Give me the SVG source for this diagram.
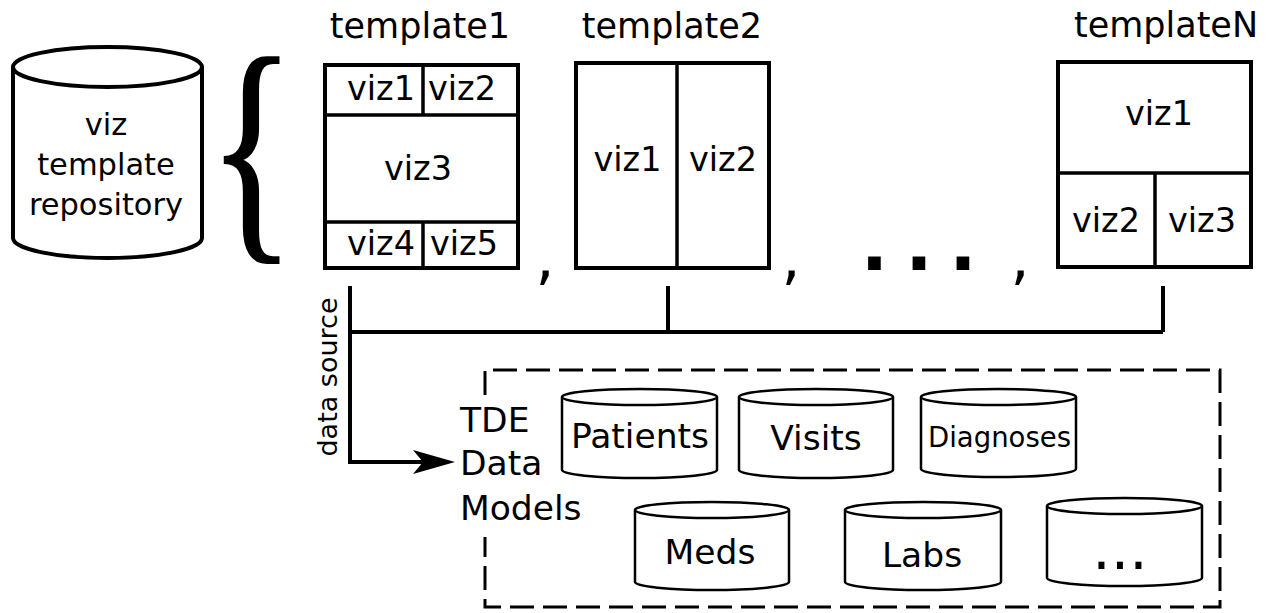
<svg xmlns="http://www.w3.org/2000/svg" width="1270" height="613" viewBox="0 0 1270 613">
  <style>
    text { font-family: "DejaVu Sans", "Liberation Sans", sans-serif; fill: #000; }
    .mid { text-anchor: middle; }
    .tpl { font-size: 35px; }
    .viz { font-size: 33.5px; }
    .frame { fill: #fff; stroke: #000; stroke-width: 4; }
    .div { fill: none; stroke: #000; stroke-width: 3.5; }
    .cyl { fill: #fff; stroke: #000; stroke-width: 2.5; }
    .cylBig { fill: #fff; stroke: #000; stroke-width: 4; }
    .wire { fill: none; stroke: #000; stroke-width: 4; }
    .model { font-size: 34.5px; }
  </style>
  <defs>
    <marker id="arrow" viewBox="0 0 42 24" refX="17" refY="12" markerWidth="42" markerHeight="24" markerUnits="userSpaceOnUse" orient="auto">
      <path d="M0,0 L42,12 L0,24 L10,12 Z" fill="#000"/>
    </marker>
  </defs>
  <rect width="1270" height="613" fill="#fff"/>

  <!-- repository cylinder -->
  <g id="repository">
    <path class="cylBig" d="M13,67 V238 A94.5,20 0 0 0 202,238 V67"/>
    <ellipse class="cylBig" cx="107.5" cy="67" rx="94.5" ry="20"/>
    <text class="mid" x="106" y="135" font-size="30.5">viz</text>
    <text class="mid" x="106" y="175" font-size="30.5">template</text>
    <text class="mid" x="106" y="215" font-size="30.5">repository</text>
  </g>

  <!-- brace grouping the templates -->
  <g id="brace">
    <text transform="translate(208,230) scale(0.73,1)" x="0" y="0" style="font-family:'Liberation Serif', serif" font-size="249" stroke="#000" stroke-width="2">{</text>
  </g>

  <!-- template 1 -->
  <g id="template1">
    <text class="tpl mid" x="420" y="38">template1</text>
    <rect class="frame" x="325" y="65" width="193" height="203"/>
    <path class="div" d="M325,115 H518 M325,222 H518 M423,65 V115 M423,222 V268"/>
    <text class="viz mid" x="381" y="100">viz1</text>
    <text class="viz mid" x="462" y="100">viz2</text>
    <text class="viz mid" x="418" y="180">viz3</text>
    <text class="viz mid" x="381" y="255">viz4</text>
    <text class="viz mid" x="464" y="255">viz5</text>
  </g>

  <!-- template 2 -->
  <g id="template2">
    <text class="tpl mid" x="672" y="38">template2</text>
    <rect class="frame" x="576" y="63" width="193" height="205"/>
    <path class="div" d="M677,63 V268"/>
    <text class="viz mid" x="627.5" y="171">viz1</text>
    <text class="viz mid" x="723" y="171">viz2</text>
  </g>

  <!-- template N -->
  <g id="templateN">
    <text class="tpl mid" x="1166" y="37">templateN</text>
    <rect class="frame" x="1058" y="62" width="193" height="205"/>
    <path class="div" d="M1058,173 H1251 M1155,173 V267"/>
    <text class="viz mid" x="1159" y="125">viz1</text>
    <text class="viz mid" x="1106" y="232">viz2</text>
    <text class="viz mid" x="1202" y="232">viz3</text>
  </g>

  <!-- separators between templates -->
  <g id="separators">
    <text class="mid" x="545" y="278" font-size="60">,</text>
    <text class="mid" x="791" y="278" font-size="60">,</text>
    <text class="mid" x="1020" y="278" font-size="60">,</text>
    <text class="mid" x="874.5" y="270" font-size="72" font-weight="bold">.</text>
    <text class="mid" x="919" y="270" font-size="72" font-weight="bold">.</text>
    <text class="mid" x="963" y="270" font-size="72" font-weight="bold">.</text>
  </g>

  <!-- connectors -->
  <g id="connectors">
    <path class="wire" d="M350,286 V462 H430" marker-end="url(#arrow)"/>
    <path class="wire" d="M350,332 H1163 M668,286 V332 M1163,286 V332"/>
    <text class="mid" transform="translate(337,377) rotate(-90)" font-size="27">data source</text>
  </g>

  <!-- TDE data models -->
  <g id="data-models">
    <path fill="none" stroke="#000" stroke-width="3" stroke-dasharray="24 9" d="M485,395 V370 H1220 V607 H485 V537"/>
    <text class="model" x="460" y="432">TDE</text>
    <text class="model" x="460" y="475">Data</text>
    <text class="model" x="460" y="520">Models</text>
  </g>

  <g id="patients">
    <path class="cyl" d="M562,397 V470 A77.5,8 0 0 0 717,470 V397"/>
    <ellipse class="cyl" cx="639.5" cy="397" rx="77.5" ry="8"/>
    <text class="mid" x="640" y="448" font-size="34.5">Patients</text>
  </g>
  <g id="visits">
    <path class="cyl" d="M739,397 V470 A77,8 0 0 0 893,470 V397"/>
    <ellipse class="cyl" cx="816" cy="397" rx="77" ry="8"/>
    <text class="mid" x="816" y="450" font-size="34.5">Visits</text>
  </g>
  <g id="diagnoses">
    <path class="cyl" d="M921,397 V469 A77.5,8 0 0 0 1076,469 V397"/>
    <ellipse class="cyl" cx="998.5" cy="397" rx="77.5" ry="8"/>
    <text class="mid" x="999.5" y="447" font-size="27.5">Diagnoses</text>
  </g>
  <g id="meds">
    <path class="cyl" d="M635,510 V582 A77,8 0 0 0 789,582 V510"/>
    <ellipse class="cyl" cx="712" cy="510" rx="77" ry="8"/>
    <text class="mid" x="710" y="564" font-size="34.5">Meds</text>
  </g>
  <g id="labs">
    <path class="cyl" d="M845,510 V582 A78,8 0 0 0 1001,582 V510"/>
    <ellipse class="cyl" cx="923" cy="510" rx="78" ry="8"/>
    <text class="mid" x="922" y="567" font-size="34.5">Labs</text>
  </g>
  <g id="more-models">
    <path class="cyl" d="M1047,506 V578 A77.5,8 0 0 0 1202,578 V506"/>
    <ellipse class="cyl" cx="1124.5" cy="506" rx="77.5" ry="8"/>
    <text class="mid" x="1120" y="569" font-size="58">...</text>
  </g>
</svg>
